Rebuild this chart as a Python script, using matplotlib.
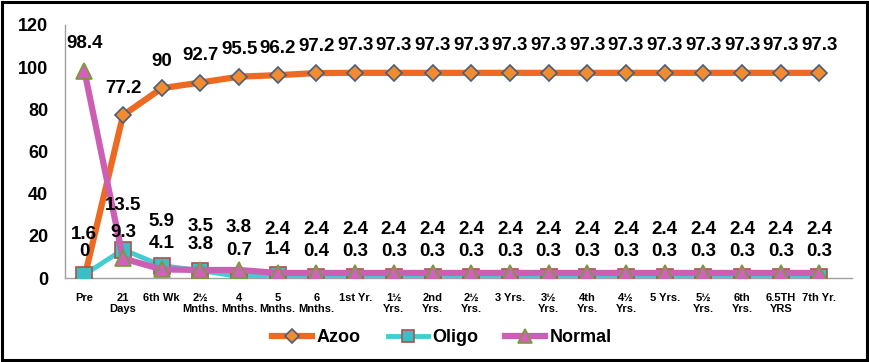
import numpy as np
import matplotlib
matplotlib.use('Agg')
from matplotlib import pyplot as plt
from matplotlib.patches import Rectangle

plt.rcParams['font.family'] = ['Liberation Sans', 'DejaVu Sans']
plt.rcParams['font.weight'] = 'bold'

categories = ['Pre', '21\nDays', '6th Wk', '2½\nMnths.', '4\nMnths.', '5\nMnths.', '6\nMnths.',
              '1st Yr.', '1½\nYrs.', '2nd\nYrs.', '2½\nYrs.', '3 Yrs.', '3½\nYrs.', '4th\nYrs.',
              '4½\nYrs.', '5 Yrs.', '5½\nYrs.', '6th\nYrs.', '6.5TH\nYRS', '7th Yr.']
azoo = [0, 77.2, 90, 92.7, 95.5, 96.2, 97.2] + [97.3] * 13
oligo = [1.6, 13.5, 5.9, 3.5, 0.7, 1.4, 0.4] + [0.3] * 13
normal = [98.4, 9.3, 4.1, 3.8, 3.8, 2.4, 2.4] + [2.4] * 13

x = np.arange(len(categories))

fig = plt.figure(figsize=(8.7, 3.62), dpi=100)
ax = fig.add_axes([0.0747, 0.232, 0.905, 0.699])

ax.plot(x, azoo, color='#EE6A22', lw=4.5, marker='D', ms=8,
        mfc='#F28C30', mec='#4A5E7A', mew=1.2, label='Azoo', zorder=3)
ax.plot(x, oligo, color='#45CCD3', lw=3.5, marker='s', ms=11,
        mfc='#38C0C6', mec='#B0504A', mew=1.2, label='Oligo', zorder=4)
ax.plot(x, normal, color='#CC5FB4', lw=4.5, marker='^', ms=12,
        mfc='#D062B8', mec='#7A9A3A', mew=1.2, label='Normal', zorder=5)

lab_kw = dict(textcoords='offset pixels', ha='center', va='center',
              fontsize=13.5, fontweight='bold', zorder=6)
for i in x:
    ax.annotate(f'{azoo[i]:g}', (i, azoo[i]), xytext=(0, 27), **lab_kw)
    # the larger of the two small series gets the upper label row
    if i == 0:
        ax.annotate(f'{normal[i]:g}', (i, normal[i]), xytext=(0, 27), **lab_kw)
        ax.annotate(f'{oligo[i]:g}', (i, oligo[i]), xytext=(0, 40), **lab_kw)
    elif oligo[i] >= 1.5:
        ax.annotate(f'{oligo[i]:g}', (i, oligo[i]), xytext=(0, 44), **lab_kw)
        ax.annotate(f'{normal[i]:g}', (i, normal[i]), xytext=(0, 26), **lab_kw)
    else:
        ax.annotate(f'{normal[i]:g}', (i, normal[i]), xytext=(0, 43), **lab_kw)
        ax.annotate(f'{oligo[i]:g}', (i, oligo[i]), xytext=(0, 26), **lab_kw)

ax.set_xlim(-0.5, 19.85)
ax.set_ylim(0, 120)
ax.set_yticks(np.arange(0, 121, 20))
ax.set_xticks(x)
ax.set_xticklabels(categories, fontsize=8, fontweight='bold', linespacing=1.15)
ax.tick_params(axis='y', labelsize=13, length=0, pad=12)
ax.tick_params(axis='x', length=0, pad=11)
for lbl in ax.get_yticklabels():
    lbl.set_fontweight('bold')

for s in ['top', 'right']:
    ax.spines[s].set_visible(False)
ax.spines['left'].set_color('#A0A0A0')
ax.spines['bottom'].set_color('#A0A0A0')
ax.spines['left'].set_linewidth(1)
ax.spines['bottom'].set_linewidth(1)

fig.legend(loc='center', bbox_to_anchor=(0.508, 0.068), ncol=3, frameon=False,
           prop={'size': 13, 'weight': 'bold'}, handlelength=2.2,
           handletextpad=0.25, columnspacing=1.5, markerscale=0.85)

fig.patches.append(Rectangle((0.002, 0.005), 0.994, 0.99, transform=fig.transFigure,
                             fill=False, edgecolor='black', linewidth=2.2))

fig.savefig('out.png', dpi=100)
